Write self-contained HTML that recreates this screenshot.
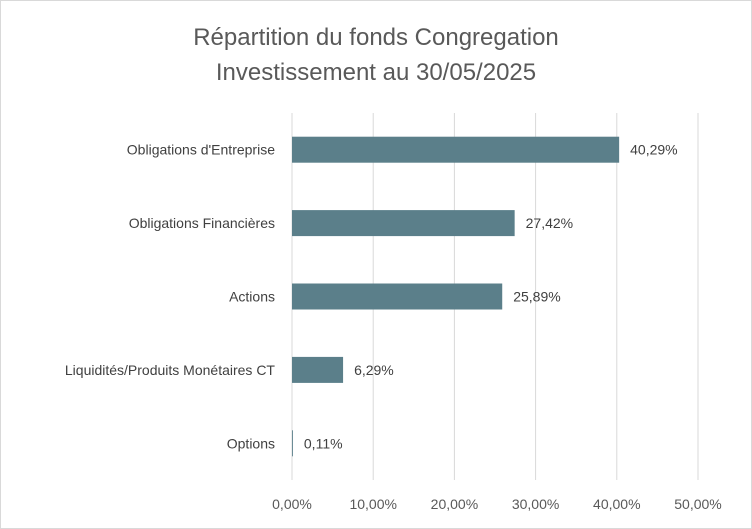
<!DOCTYPE html>
<html><head><meta charset="utf-8"><style>
body{margin:0;background:#fff;}
svg{display:block;font-family:"Liberation Sans",sans-serif;}
</style></head><body>
<svg width="752" height="529" viewBox="0 0 752 529">
<rect x="0.5" y="0.5" width="751" height="528" fill="#fff" stroke="#d9d9d9"/>
<text x="376" y="45" text-anchor="middle" font-size="24" fill="#595959">Répartition du fonds Congregation</text>
<text x="376" y="80" text-anchor="middle" font-size="24" fill="#595959">Investissement au 30/05/2025</text>
<g id="grid"></g><g id="bars"></g><g id="labels"></g>
</svg>
<script>
const categories=["Obligations d'Entreprise","Obligations Financières","Actions","Liquidités/Produits Monétaires CT","Options"];
const values=[40.29,27.42,25.89,6.29,0.11];
const valueLabels=["40,29%","27,42%","25,89%","6,29%","0,11%"];
const ticks=[0,10,20,30,40,50];
const tickLabels=["0,00%","10,00%","20,00%","30,00%","40,00%","50,00%"];
const NS="http://www.w3.org/2000/svg";
const x0=292,x1=698,yTop=113,yBot=480,maxV=50;
const xs=v=>x0+(v/maxV)*(x1-x0);
const band=(yBot-yTop)/categories.length;
const yc=i=>yTop+band*(i+0.5);
function mk(t,a){const e=document.createElementNS(NS,t);for(const k in a)e.setAttribute(k,a[k]);return e;}
const grid=document.getElementById('grid'),bars=document.getElementById('bars'),labels=document.getElementById('labels');
ticks.forEach((t,i)=>{
 const l=mk('line',{x1:xs(t),x2:xs(t),y1:yTop,y2:yBot,stroke:'#d9d9d9','stroke-width':1});
 
 
 grid.appendChild(l);
 const tx=mk('text',{x:xs(t),y:509,'text-anchor':'middle','font-size':14,fill:'#595959'});
 tx.textContent=tickLabels[i];
 
 
 labels.appendChild(tx);
});
categories.forEach((c,i)=>{
 const h=26,y=yc(i)-h/2;
 const r=mk('rect',{x:x0,y:y,width:xs(values[i])-x0,height:h,fill:'#5b7f8a'});
 
 
 bars.appendChild(r);
 const cl=mk('text',{x:275,y:yc(i)+5,'text-anchor':'end','font-size':14,fill:'#404040'});
 cl.textContent=c;
 
 
 labels.appendChild(cl);
 const vl=mk('text',{x:xs(values[i])+11,y:yc(i)+5,'font-size':14,fill:'#404040'});
 vl.textContent=valueLabels[i];
 
 
 labels.appendChild(vl);
});
</script>
</body></html>
